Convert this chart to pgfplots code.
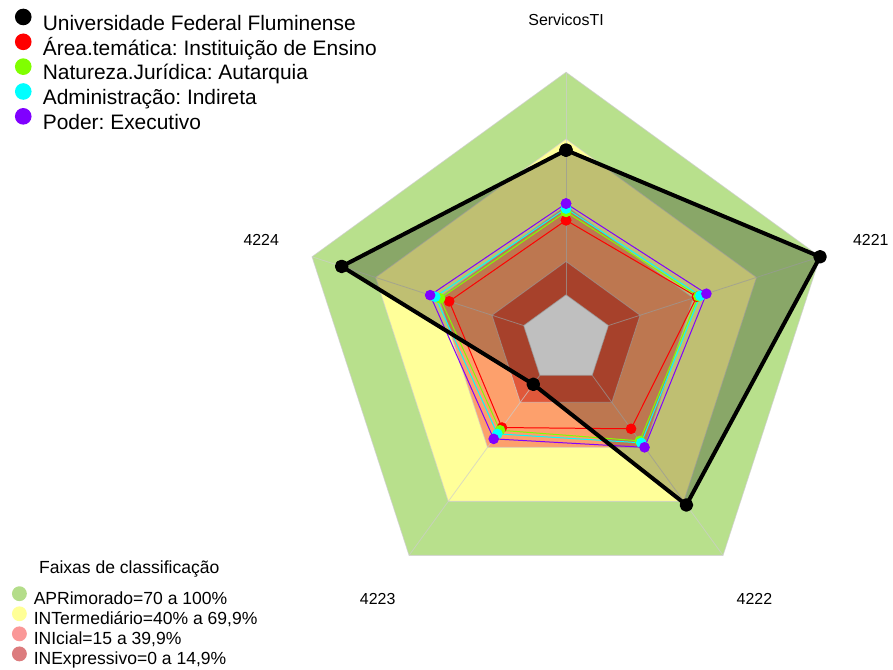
\documentclass[border=0pt]{standalone}
\usepackage{fontspec}
\setmainfont{Liberation Sans}
\usepackage{pgfplots}
\usepackage{pgfplotstable}
\pgfplotsset{compat=1.18}
\frenchspacing
\definecolor{bApr}{RGB}{184,224,140}
\definecolor{bInt}{RGB}{255,255,153}
\definecolor{bIni}{RGB}{253,160,108}
\definecolor{bInx}{RGB}{224,88,58}
\definecolor{sRed}{RGB}{255,0,0}
\definecolor{sGreen}{RGB}{128,255,0}
\definecolor{sCyan}{RGB}{0,255,255}
\definecolor{sPurple}{RGB}{128,0,255}
\definecolor{spk}{RGB}{205,205,205}
\definecolor{lApr}{RGB}{180,221,138}
\definecolor{lInt}{RGB}{255,255,150}
\definecolor{lIni}{RGB}{250,152,152}
\definecolor{lInx}{RGB}{220,124,126}

% values in percent; angle of each radar axis
\pgfplotstableread{
angle uff area natureza admin poder
90   65  33.5 37.3 38.8 41.0
18   100 41.8 42.5 43.4 46.3
-54  72  29.7 36.4 37.5 40.0
-126 5   29.0 30.5 32.5 35.3
162  86  35.2 39.5 41.8 44.2
90   65  33.5 37.3 38.8 41.0
}\series

\pgfplotstableread{
angle apr inter inic inexp zero
90   100 70 40 15 0
18   100 70 40 15 0
-54  100 70 40 15 0
-126 100 70 40 15 0
162  100 70 40 15 0
90   100 70 40 15 0
}\bands

\begin{document}
\begin{tikzpicture}
\pgfplotsset{radar/.style={
  x=1.675pt, y=1.675pt,
  xmin=-254.33, xmax=145.52, ymin=-146.64, ymax=152.46,
  hide axis, clip=false}}
\begin{axis}[radar,
  legend style={at={(rel axis cs:0.0168,0.98698)}, anchor=north west,
    draw=none, fill=none, inner sep=0pt, outer sep=0pt, row sep=-3.6pt,
    font=\fontsize{15.75}{18}\selectfont,
    nodes={inner sep=0pt, text height=13pt, text depth=6.1pt},
    /tikz/every odd column/.append style={column sep=8.5pt},
    cells={anchor=west}},
  legend image code/.code={\fill[#1] (6.25pt,6.5pt) circle (6.25pt);},
]
\path (rel axis cs:0,0) rectangle (rel axis cs:1,1);
\addlegendimage{fill=black, draw=none}
\addlegendentry{Universidade Federal Fluminense}
\addlegendimage{fill=sRed, draw=none}
\addlegendentry{Área.temática: Instituição de Ensino}
\addlegendimage{fill=sGreen, draw=none}
\addlegendentry{Natureza.Jurídica: Autarquia}
\addlegendimage{fill=sCyan, draw=none}
\addlegendentry{Administração: Indireta}
\addlegendimage{fill=sPurple, draw=none}
\addlegendentry{Poder: Executivo}

% bands (radius = value + 20, scale from -20 to 100)
\addplot[forget plot, data cs=polar, fill=bApr, draw=spk, draw opacity=0.7, line width=0.6pt] table[x=angle, y expr=\thisrow{apr}+20] {\bands};
\addplot[forget plot, data cs=polar, fill=bInt, draw=spk, draw opacity=0.7, line width=0.6pt] table[x=angle, y expr=\thisrow{inter}+20] {\bands};
\addplot[forget plot, data cs=polar, fill=bIni, draw=spk, draw opacity=0.7, line width=0.6pt] table[x=angle, y expr=\thisrow{inic}+20] {\bands};
\addplot[forget plot, data cs=polar, fill=bInx, draw=spk, draw opacity=0.7, line width=0.6pt] table[x=angle, y expr=\thisrow{inexp}+20] {\bands};
\addplot[forget plot, data cs=polar, fill=white, draw=spk, draw opacity=0.7, line width=0.6pt] table[x=angle, y expr=\thisrow{zero}+20] {\bands};
% spokes
\addplot[forget plot, data cs=polar, spk, opacity=0.7, line width=0.6pt] coordinates {(90,20) (90,120)};
\addplot[forget plot, data cs=polar, spk, opacity=0.7, line width=0.6pt] coordinates {(18,20) (18,120)};
\addplot[forget plot, data cs=polar, spk, opacity=0.7, line width=0.6pt] coordinates {(-54,20) (-54,120)};
\addplot[forget plot, data cs=polar, spk, opacity=0.7, line width=0.6pt] coordinates {(-126,20) (-126,120)};
\addplot[forget plot, data cs=polar, spk, opacity=0.7, line width=0.6pt] coordinates {(162,20) (162,120)};

% UFF fill
\addplot[forget plot, data cs=polar, draw=none, fill=black, fill opacity=0.25] table[x=angle, y expr=\thisrow{uff}+20] {\series};
% comparison series
\addplot[forget plot, data cs=polar, sRed, line width=0.75pt, mark=*, mark size=3.6pt, mark options={solid, fill=sRed, draw=none}] table[x=angle, y expr=\thisrow{area}+20] {\series};
\addplot[forget plot, data cs=polar, sGreen, line width=0.75pt, mark=*, mark size=3.6pt, mark options={solid, fill=sGreen, draw=none}] table[x=angle, y expr=\thisrow{natureza}+20] {\series};
\addplot[forget plot, data cs=polar, sCyan, line width=0.75pt, mark=*, mark size=3.6pt, mark options={solid, fill=sCyan, draw=none}] table[x=angle, y expr=\thisrow{admin}+20] {\series};
\addplot[forget plot, data cs=polar, sPurple, line width=0.75pt, mark=*, mark size=3.6pt, mark options={solid, fill=sPurple, draw=none}] table[x=angle, y expr=\thisrow{poder}+20] {\series};
% UFF line
\addplot[forget plot, data cs=polar, black, line width=3pt, line join=round, mark=*, mark size=3.6pt, mark options={solid, fill=black, draw=none}] table[x=angle, y expr=\thisrow{uff}+20] {\series};

% axis labels
\node[font=\fontsize{12}{14}\selectfont] at (axis cs:0,143.5) {ServicosTI};
\node[font=\fontsize{12}{14}\selectfont] at (axis cs:136.95,44.5) {4221};
\node[font=\fontsize{12}{14}\selectfont] at (axis cs:84.64,-116.5) {4222};
\node[font=\fontsize{12}{14}\selectfont] at (axis cs:-84.64,-116.5) {4223};
\node[font=\fontsize{12}{14}\selectfont] at (axis cs:-136.95,44.5) {4224};
% bottom legend title
\node[anchor=base, font=\fontsize{13.2}{15}\selectfont] at (rel axis cs:0.14524,0.13817) {Faixas de classificação};
\end{axis}

\begin{axis}[radar,
  legend style={at={(rel axis cs:0.01344,0.1193)}, anchor=north west,
    draw=none, fill=none, inner sep=0pt, outer sep=0pt, row sep=-2.6pt,
    font=\fontsize{13.2}{15}\selectfont,
    nodes={inner sep=0pt, text height=11pt, text depth=4pt},
    /tikz/every odd column/.append style={column sep=5.2pt},
    cells={anchor=west}},
  legend image code/.code={\fill[#1] (5.6pt,4.6pt) circle (5.6pt);},
]
\addplot[draw=none, forget plot] coordinates {(0,0)};
\addlegendimage{fill=lApr, draw=none}
\addlegendentry{APRimorado=70 a 100\%}
\addlegendimage{fill=lInt, draw=none}
\addlegendentry{INTermediário=40\% a 69,9\%}
\addlegendimage{fill=lIni, draw=none}
\addlegendentry{INIcial=15 a 39,9\%}
\addlegendimage{fill=lInx, draw=none}
\addlegendentry{INExpressivo=0 a 14,9\%}
\end{axis}
\end{tikzpicture}
\end{document}
